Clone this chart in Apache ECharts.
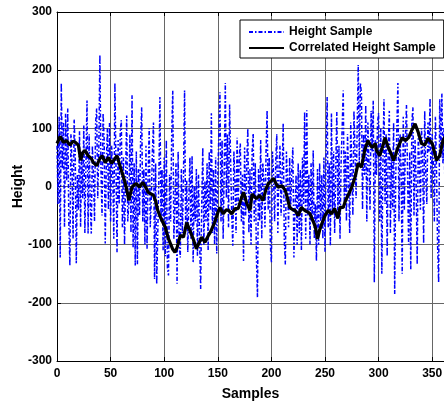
<!DOCTYPE html>
<html>
<head>
<meta charset="utf-8">
<script src="https://cdn.jsdelivr.net/npm/echarts@6/dist/echarts.min.js"></script>
<style>html,body{margin:0;padding:0;background:#fff;}#c{width:444px;height:403px;}</style>
</head>
<body>
<div id="c"></div>
<script>
// Height Sample (raw), one value per sample starting at 0
var heightSample = [
  70, -30, 120, -122, 178, 30, 110, -70, 125, 10,
  134, -60, -136, 90, 40, -90, 115, 60, -132, 20,
  -40, 95, -70, 60, -20, 105, -80, 40, 148, -81,
  90, -30, -81, 70, 20, -60, 110, 134, -20, 60,
  226, 30, -50, 126, 80, -98, 40, 100, -40, 109,
  -60, 70, 20, -90, 178, 40, -113, 80, -30, 95,
  114, -70, 50, -100, 20, 122, -60, -30, 90, -80,
  157, -105, 40, -136, 60, -134, 30, -50, 80, 136,
  -60, 30, -100, 70, -107, 20, 100, -70, -20, 60,
  110, -159, 40, -168, -171, 10, 154, -60, 30, -110,
  50, -120, 80, -140, -153, 20, -60, 90, 165, -90,
  -30, 40, -167, 60, -100, -122, 30, -80, 20, 165,
  -70, 10, -113, -20, 50, -90, 53, -130, 0, -60,
  30, -120, 20, -90, -176, -30, 67, -100, 10, -60,
  40, -110, 60, -40, 126, -80, 30, -100, 50, -115,
  20, 90, 162, -60, 80, -90, 30, 178, -20, 90,
  -70, 141, 40, -50, -102, 60, 10, -80, 84, -30,
  50, 74, -60, 20, -128, 67, -50, 40, 100, -80,
  30, -100, 60, 91, -60, 40, -120, -191, 30, -60,
  80, -90, 40, 10, -70, 60, 131, -40, 50, -100,
  -131, 60, 20, -60, 40, 90, -80, 30, 70, -50,
  20, 109, -90, -134, 60, 10, -70, 50, -40, 30,
  67, -122, -40, 20, -100, 40, -80, 30, -110, 50,
  -30, 128, -90, 131, -50, 20, -100, 40, -60, 62,
  -90, -30, -128, 30, -100, 40, -60, 20, -90, 50,
  -112, 60, 154, -70, 40, -102, 126, -40, 60, -80,
  30, 128, -50, 70, -90, 40, 100, 165, -30, 60,
  -60, 90, 20, -80, 110, 30, -50, 130, 60, -20,
  100, 209, 40, 178, 160, -40, 90, 20, 140, -60,
  110, 40, -40, 130, 60, 148, -165, 80, 20, 110,
  126, -60, 100, -150, 40, 150, -30, 90, -120, 70,
  130, -80, 60, -40, 110, -185, 20, 100, 178, -60,
  90, 30, -150, 120, -40, 80, 140, 20, -100, 60,
  -143, 110, 136, -50, 80, 10, -134, 90, 40, -40,
  100, 60, -98, 130, 20, -30, 110, 60, 152, -20,
  90, 40, -60, 120, 30, -100, -165, 150, 50, 160,
  40, 100, -20
];

// Correlated Height Sample: sample index and value
var corrSamples = [0,3,6,9,12,15,17,20,22,24,26,29,32,34,37,40,42,45,48,51,54,56,58,60,63,65,67,70,72,74,77,80,83,85,88,90,92,94,97,101,104,106,108,110,112,115,118,121,124,127,130,133,135,138,141,143,147,150,152,155,158,160,163,166,169,172,174,177,180,182,186,189,192,195,197,200,202,204,206,210,213,215,217,220,222,225,228,231,234,236,239,241,243,245,247,250,253,256,259,262,264,267,269,272,275,278,281,284,287,290,292,294,297,298,301,304,306,309,312,314,316,318,322,325,328,331,334,337,340,343,346,350,352,354,357,360,362];
var corrValues = [74,86,76,79,71,78,76,71,45,58,62,53,48,41,36,48,53,41,50,40,48,53,40,28,10,-5,-24,-1,3,5,-1,7,-2,-10,-13,-15,-25,-41,-55,-70,-90,-99,-108,-113,-105,-84,-87,-62,-76,-90,-107,-95,-87,-96,-85,-79,-62,-45,-36,-47,-40,-41,-47,-38,-38,-20,-10,-29,-41,-13,-21,-15,-24,-5,5,10,14,6,-1,1,-7,-20,-36,-40,-41,-50,-36,-41,-44,-47,-60,-70,-90,-75,-64,-50,-41,-47,-38,-55,-36,-36,-25,-13,-1,16,40,33,62,79,72,67,74,62,53,70,84,67,55,45,55,67,84,79,84,97,108,93,74,71,83,74,60,45,53,79,85];

var xTicks = {min: 0, max: 361, interval: 50};
var yTicks = {min: -300, max: 300, interval: 100};

var font = 'Liberation Sans, Arial, sans-serif';
var chart = echarts.init(document.getElementById('c'), null, {renderer: 'canvas'});
chart.setOption({
  animation: false,
  backgroundColor: '#fff',
  grid: {left: 57, right: 0, top: 12, bottom: 42, containLabel: false, outerBoundsMode: 'none'},
  legend: {
    left: 240, top: 20, orient: 'vertical',
    itemWidth: 35, itemHeight: 14, itemGap: 4,
    padding: [6, 8, 4, 8],
    borderColor: '#000', borderWidth: 1, backgroundColor: '#fff',
    itemStyle: {opacity: 0},
    textStyle: {fontFamily: font, fontWeight: 'bold', fontSize: 12, color: '#000'},
    data: ['Height Sample', 'Correlated Height Sample']
  },
  xAxis: [{
    type: 'value', min: xTicks.min, max: xTicks.max, interval: xTicks.interval,
    name: 'Samples', nameLocation: 'middle', nameGap: 26, nameMoveOverlap: false,
    nameTextStyle: {fontFamily: font, fontWeight: 'bold', fontSize: 14, color: '#000'},
    axisLine: {show: true, onZero: false, lineStyle: {color: '#000', width: 1}},
    axisTick: {show: true, inside: true, length: 4, lineStyle: {color: '#000'}},
    axisLabel: {fontFamily: font, fontWeight: 'bold', fontSize: 12, color: '#000', margin: 7, showMaxLabel: false},
    splitLine: {show: true, lineStyle: {color: '#666', width: 1}}
  }, {
    type: 'value', position: 'top', min: xTicks.min, max: xTicks.max, interval: xTicks.interval,
    axisLine: {show: true, onZero: false, lineStyle: {color: '#000', width: 1}},
    axisTick: {show: true, inside: true, length: 4, lineStyle: {color: '#000'}},
    axisLabel: {show: false}, splitLine: {show: false}
  }],
  yAxis: [{
    type: 'value', min: yTicks.min, max: yTicks.max, interval: yTicks.interval,
    name: 'Height', nameLocation: 'middle', nameGap: 32, nameRotate: 90, nameMoveOverlap: false,
    nameTextStyle: {fontFamily: font, fontWeight: 'bold', fontSize: 14, color: '#000'},
    axisLine: {show: true, onZero: false, lineStyle: {color: '#000', width: 1}},
    axisTick: {show: true, inside: true, length: 4, lineStyle: {color: '#000'}},
    axisLabel: {fontFamily: font, fontWeight: 'bold', fontSize: 12, color: '#000', margin: 5},
    splitLine: {show: true, lineStyle: {color: '#666', width: 1}}
  }],
  series: [{
    name: 'Height Sample', type: 'line', symbol: 'none', clip: true,
    data: heightSample.map(function (v, i) { return [i, v]; }),
    lineStyle: {color: '#0000ff', width: 1.5, type: [4, 2, 1.5, 2]},
    itemStyle: {color: '#0000ff'}, z: 2
  }, {
    name: 'Correlated Height Sample', type: 'line', symbol: 'none', clip: true,
    data: corrSamples.map(function (s, i) { return [s, corrValues[i]]; }),
    lineStyle: {color: '#000', width: 3.2},
    itemStyle: {color: '#000'}, z: 3
  }]
});
</script>
</body>
</html>
